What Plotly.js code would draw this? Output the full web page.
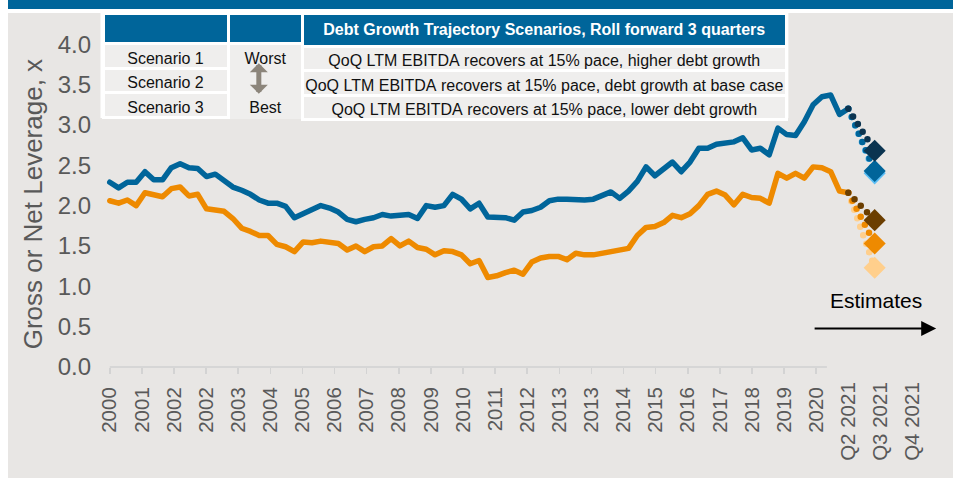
<!DOCTYPE html>
<html>
<head>
<meta charset="utf-8">
<script src="https://cdn.plot.ly/plotly-3.0.1.min.js"></script>
<style>
html, body { margin: 0; padding: 0; background: #ffffff; width: 953px; height: 478px; overflow: hidden; }
#band { position: absolute; left: 8px; top: 0; width: 945px; height: 9px; background: #00659A; }
#chart { position: absolute; left: 8px; top: 13px; width: 945px; height: 465px; }
.scatterlayer .js-line { stroke-linecap: round; stroke-linejoin: round; }
</style>
</head>
<body>
<div id="band"></div>
<div id="chart"></div>
<script>
// ---- data (quarterly, Q1 2000 .. Q1 2021) ----
const grossLeverage = [
  2.29, 2.22, 2.29, 2.29, 2.42, 2.32, 2.32, 2.47, 2.52, 2.47,
  2.46, 2.36, 2.39, 2.30, 2.23, 2.19, 2.14, 2.07, 2.03, 2.03,
  1.99, 1.85, 1.90, 1.94, 2.00, 1.97, 1.92, 1.83, 1.80, 1.83,
  1.85, 1.89, 1.87, 1.88, 1.89, 1.84, 2.00, 1.98, 2.00, 2.14,
  2.08, 1.96, 2.03, 1.86, 1.86, 1.85, 1.82, 1.92, 1.94, 1.98,
  2.06, 2.08, 2.08, 2.07, 2.07, 2.08, 2.13, 2.17, 2.09, 2.18,
  2.30, 2.48, 2.37, 2.45, 2.54, 2.42, 2.54, 2.71, 2.71, 2.76,
  2.78, 2.79, 2.84, 2.69, 2.71, 2.63, 2.96, 2.88, 2.87, 3.04,
  3.25, 3.35, 3.37, 3.13, 3.20
];
const netLeverage = [
  2.06, 2.03, 2.07, 2.00, 2.16, 2.14, 2.11, 2.21, 2.23, 2.12,
  2.14, 1.96, 1.94, 1.93, 1.84, 1.72, 1.68, 1.63, 1.63, 1.52,
  1.49, 1.43, 1.55, 1.54, 1.56, 1.55, 1.53, 1.45, 1.50, 1.43,
  1.49, 1.50, 1.59, 1.50, 1.56, 1.48, 1.46, 1.39, 1.44, 1.43,
  1.39, 1.28, 1.32, 1.11, 1.13, 1.17, 1.20, 1.15, 1.30, 1.35,
  1.37, 1.37, 1.33, 1.41, 1.39, 1.39, 1.41, 1.43, 1.46, 1.47,
  1.63, 1.73, 1.74, 1.79, 1.88, 1.85, 1.90, 2.00, 2.14, 2.18,
  2.13, 2.01, 2.14, 2.10, 2.09, 2.03, 2.40, 2.34, 2.40, 2.34,
  2.48, 2.47, 2.42, 2.18, 2.16
];
// scenario estimates, rolled forward 3 quarters (Scenario 1, 2, 3)
const quartersForward = 3;
const grossScenarioEnd = [2.68, 2.43, 2.40];
const netScenarioEnd = [1.82, 1.53, 1.23];

const yearTickLabels = ['2000','2001','2002','2002','2003','2004','2005','2006','2007','2008','2009',
  '2010','2011','2012','2013','2013','2014','2015','2016','2017','2018','2019','2020'];
const estimateTickLabels = ['Q2 2021','Q3 2021','Q4 2021'];

const scenarioNames = ['Scenario 1', 'Scenario 2', 'Scenario 3'];
const scenarioRank = ['Worst', '', 'Best'];
const scenarioDescriptions = [
  'QoQ LTM EBITDA recovers at 15% pace, higher debt growth',
  'QoQ LTM EBITDA recovers at 15% pace, debt growth at base case',
  'QoQ LTM EBITDA recovers at 15% pace, lower debt growth'
];
const tableTitle = 'Debt Growth Trajectory Scenarios, Roll forward 3 quarters';
const yTitle = 'Gross or Net Leverage, x';
const estimatesLabel = 'Estimates';

// ---- styles ----
const FONT = 'Arial, "Liberation Sans", sans-serif';
const NARROW = '"Liberation Sans Narrow", "Arial Narrow", Arial, sans-serif';
const BLUE = '#00659A';
const ORANGE = '#EE8A00';
const grossScenarioColors = ['#0B3450', '#00659A', '#5BBEF5'];
const netScenarioColors = ['#6B3E00', '#EE8A00', '#FFCF8C'];
const BG = '#E8E6E4';
const CELL = '#EFEEED';
const TICKCOL = '#595959';

const idx = grossLeverage.map((_, i) => i);
const last = grossLeverage.length - 1;
const tickStep = last / yearTickLabels.length;
const yearTickVals = yearTickLabels.map((_, k) => k * tickStep);
const estimateTickVals = estimateTickLabels.map((_, k) => (yearTickLabels.length + k) * tickStep);
// keep each description on one line (non-breaking spaces for display)
const noWrap = t => t.replace(/ /g, '\u00A0');

const traces = [];
// tables (middle column first so neighbours' white borders sit on top)
const tblY = [0.69, 1];
const cellFont = {family: FONT, size: 16, color: '#111111'};
traces.push({
  type: 'table', domain: {x: [0.1508, 0.2385], y: tblY},
  header: {values: [''], fill: {color: BLUE}, line: {color: '#ffffff', width: 3}, height: 30.5},
  cells: {values: [scenarioRank], fill: {color: CELL}, line: {color: CELL, width: 3}, height: 24.5,
          align: 'center', font: cellFont}
});
traces.push({
  type: 'table', domain: {x: [0.0024, 0.1508], y: tblY},
  header: {values: [''], fill: {color: BLUE}, line: {color: '#ffffff', width: 3}, height: 30.5},
  cells: {values: [scenarioNames], fill: {color: CELL}, line: {color: '#ffffff', width: 3}, height: 24.5,
          align: 'center', font: cellFont}
});
traces.push({
  type: 'table', domain: {x: [0.2385, 0.8126], y: tblY},
  header: {values: ['<b>' + tableTitle + '</b>'], fill: {color: BLUE}, line: {color: '#ffffff', width: 3}, height: 30.5,
           align: 'center', font: {family: FONT, size: 16, color: '#ffffff'}},
  cells: {values: [scenarioDescriptions.map(noWrap)], fill: {color: CELL}, line: {color: '#ffffff', width: 3}, height: 24.5,
          align: 'center', font: cellFont}
});

// history lines
traces.push({type: 'scatter', mode: 'lines', x: idx, y: grossLeverage, name: 'Gross leverage',
  line: {color: BLUE, width: 5.5}, hoverinfo: 'skip'});
traces.push({type: 'scatter', mode: 'lines', x: idx, y: netLeverage, name: 'Net leverage',
  line: {color: ORANGE, width: 5.5}, hoverinfo: 'skip'});

// scenario dotted paths
for (let s = grossScenarioEnd.length - 1; s >= 0; s--) {
  traces.push({type: 'scatter', mode: 'lines', xaxis: 'x2',
    x: [last, last + quartersForward], y: [grossLeverage[last], grossScenarioEnd[s]],
    line: {color: grossScenarioColors[s], width: 6.5, dash: '0px,9px'}, hoverinfo: 'skip'});
  traces.push({type: 'scatter', mode: 'lines', xaxis: 'x2',
    x: [last, last + quartersForward], y: [netLeverage[last], netScenarioEnd[s]],
    line: {color: netScenarioColors[s], width: 6.5, dash: '0px,9px'}, hoverinfo: 'skip'});
}
// scenario end diamonds
for (let s = grossScenarioEnd.length - 1; s >= 0; s--) {
  traces.push({type: 'scatter', mode: 'markers', xaxis: 'x2',
    x: [last + quartersForward], y: [grossScenarioEnd[s]],
    marker: {symbol: 'diamond', size: 17, color: grossScenarioColors[s], line: {width: 0}}, hoverinfo: 'skip'});
  traces.push({type: 'scatter', mode: 'markers', xaxis: 'x2',
    x: [last + quartersForward], y: [netScenarioEnd[s]],
    marker: {symbol: 'diamond', size: 17, color: netScenarioColors[s], line: {width: 0}}, hoverinfo: 'skip'});
}

const xRange = [-1, 95];
const layout = {
  width: 945, height: 465,
  paper_bgcolor: BG, plot_bgcolor: 'rgba(0,0,0,0)',
  margin: {l: 92.5, r: 8.3, t: 0, b: 111.3, pad: 0},
  showlegend: false,
  font: {family: FONT, color: TICKCOL},
  xaxis: {
    range: xRange, fixedrange: true, tickmode: 'array', tickvals: yearTickVals, ticktext: yearTickLabels,
    tickangle: -90, ticks: 'outside', ticklen: 6, tickwidth: 1.5, tickcolor: '#D3D3D3',
    showgrid: false, zeroline: false, showline: false, ticklabelstandoff: 5,
    tickfont: {family: FONT, size: 20.5, color: TICKCOL}
  },
  xaxis2: {
    range: xRange, fixedrange: true, overlaying: 'x', anchor: 'y', side: 'bottom',
    tickmode: 'array', tickvals: estimateTickVals, ticktext: estimateTickLabels,
    tickangle: -90, ticks: 'outside', ticklen: 6, tickcolor: 'rgba(0,0,0,0)',
    showgrid: false, zeroline: false, showline: false, ticklabelstandoff: 0,
    tickfont: {family: NARROW, size: 20.5, color: TICKCOL}
  },
  yaxis: {
    range: [0, 4.387], fixedrange: true, tick0: 0, dtick: 0.5, tickformat: '.1f',
    ticks: '', showgrid: false, zeroline: false, showline: false, ticklabelstandoff: 9,
    tickfont: {family: FONT, size: 24, color: TICKCOL}
  },
  shapes: [
    {type: 'line', xref: 'x', yref: 'paper', x0: 0, x1: yearTickVals[yearTickVals.length - 1] + tickStep / 3,
     y0: 0, y1: 0, line: {color: '#D6D6D6', width: 2}, layer: 'below'},
    {type: 'rect', xref: 'paper', yref: 'paper', x0: -0.0006, x1: 0.8144, y0: 0.7031, y1: 1.0,
     fillcolor: '#ffffff', line: {width: 0}, layer: 'below'}
  ],
  annotations: [
    {text: yTitle, xref: 'paper', yref: 'paper', x: -0.0806, y: 0.4594, textangle: -90,
     showarrow: false, xanchor: 'center', yanchor: 'middle', font: {family: FONT, size: 26, color: TICKCOL}},
    {text: estimatesLabel, xref: 'x', yref: 'y', x: 87.18, y: 0.82, showarrow: false,
     xanchor: 'center', yanchor: 'middle', font: {family: FONT, size: 21, color: '#000000'}},
    {text: '', xref: 'x', yref: 'y', x: 94.0, y: 0.476, axref: 'x', ayref: 'y', ax: 80.0, ay: 0.476,
     showarrow: true, arrowhead: 2, arrowsize: 1.5, arrowwidth: 2, arrowcolor: '#000000', standoff: 0},
    {text: '', xref: 'paper', yref: 'paper', x: 0.187, y: 0.7721, ax: 0, ay: -32,
     showarrow: true, arrowside: 'end+start', arrowhead: 1, arrowsize: 0.6, arrowwidth: 5,
     arrowcolor: '#8C857B', standoff: 0, startstandoff: 0}
  ]
};

Plotly.newPlot('chart', traces, layout, {displayModeBar: false, staticPlot: true});
</script>
</body>
</html>
